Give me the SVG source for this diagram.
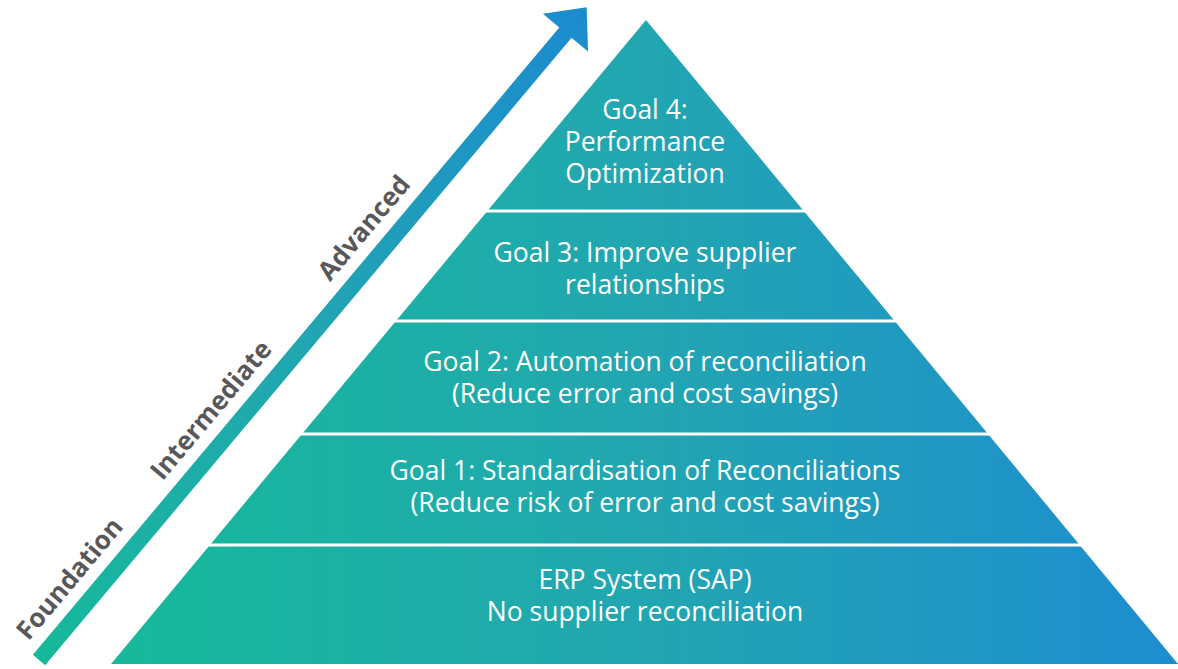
<svg xmlns="http://www.w3.org/2000/svg" width="1178" height="669" viewBox="0 0 1178 669">
  <defs>
    <linearGradient id="pyrGrad" gradientUnits="userSpaceOnUse" x1="111" y1="0" x2="1178" y2="0">
      <stop offset="0" stop-color="#16b99a"/>
      <stop offset="0.5" stop-color="#22a6b1"/>
      <stop offset="1" stop-color="#1d8dd0"/>
    </linearGradient>
    <linearGradient id="arrowGrad" gradientUnits="userSpaceOnUse" x1="0" y1="0" x2="852" y2="0">
      <stop offset="0" stop-color="#16b99a"/>
      <stop offset="0.5" stop-color="#22a5b2"/>
      <stop offset="1" stop-color="#1b8bcf"/>
    </linearGradient>
    <style>
      .band-text { font-family: "Open Sans", "Noto Sans", sans-serif; font-size: 26.5px; fill: #ffffff; text-anchor: middle; }
      .level { font-family: "Open Sans", "Noto Sans", sans-serif; font-size: 26px; font-weight: bold; fill: #58585a; text-anchor: middle; }
      .divider { stroke: #ffffff; stroke-width: 3; }
    </style>
  </defs>

  <rect width="1178" height="669" fill="#ffffff"/>

  <!-- progression arrow, drawn along its own axis -->
  <g id="progress-arrow" transform="translate(39 660) rotate(-50)">
    <polygon fill="url(#arrowGrad)" points="0,-8 819,-8 819,-29.5 852,0 819,29.5 819,8 0,8"/>
    <text class="level" x="82" y="-20">Foundation</text>
    <text class="level" x="302" y="-20">Intermediate</text>
    <text class="level" x="540" y="-20">Advanced</text>
  </g>

  <!-- pyramid body -->
  <g id="pyramid">
    <polygon fill="url(#pyrGrad)" points="646,20 111,664 1178,664"/>
  </g>

  <!-- band dividers -->
  <g id="dividers">
    <line class="divider" x1="480" y1="211" x2="815" y2="211"/>
    <line class="divider" x1="390" y1="321" x2="905" y2="321"/>
    <line class="divider" x1="295" y1="434" x2="1000" y2="434"/>
    <line class="divider" x1="200" y1="545" x2="1090" y2="545"/>
  </g>

  <g id="goal-4">
    <text class="band-text" x="645" y="119">Goal 4:</text>
    <text class="band-text" x="645" y="151">Performance</text>
    <text class="band-text" x="645" y="183">Optimization</text>
  </g>
  <g id="goal-3">
    <text class="band-text" x="645" y="262">Goal 3: Improve supplier</text>
    <text class="band-text" x="645" y="294">relationships</text>
  </g>
  <g id="goal-2">
    <text class="band-text" x="645" y="371">Goal 2: Automation of reconciliation</text>
    <text class="band-text" x="645" y="403">(Reduce error and cost savings)</text>
  </g>
  <g id="goal-1">
    <text class="band-text" x="645" y="480">Goal 1: Standardisation of Reconciliations</text>
    <text class="band-text" x="645" y="512">(Reduce risk of error and cost savings)</text>
  </g>
  <g id="erp-base">
    <text class="band-text" x="645" y="589">ERP System (SAP)</text>
    <text class="band-text" x="645" y="621">No supplier reconciliation</text>
  </g>
</svg>
